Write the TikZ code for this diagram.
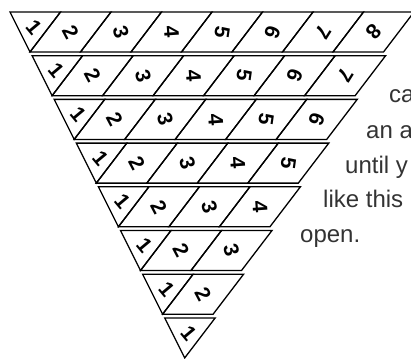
\documentclass[tikz,border=0pt]{standalone}
\usepackage{fontspec}
\setmainfont{Liberation Sans}
\usetikzlibrary{calc}

\begin{document}
\begin{tikzpicture}[
    x=1pt, y=-1pt,
    cell/.style={draw=black, line width=1.3pt, line join=miter},
    num/.style={font=\bfseries\fontsize{21}{21}\selectfont, inner sep=0pt},
    caption/.style={anchor=base west, inner sep=0pt, text=black!80, font=\fontsize{24}{24}\selectfont}
]
\useasboundingbox (0,0) rectangle (411,358);
\clip (0,0) rectangle (411,358);

% Facher: acht Reihen, oben die breiteste
\foreach \r in {0,...,7} {
  \pgfmathsetmacro{\xl}{10+22.1*\r}
  \pgfmathsetmacro{\yt}{12+43.7*\r}
  \pgfmathsetmacro{\yb}{\yt+40}
  \pgfmathtruncatemacro{\n}{8-\r}
  % erstes Feld: Dreieck
  \draw[cell] (\xl,\yt) -- ({\xl+50.5},\yt) -- ({\xl+20},\yb) -- cycle;
  \node[num, rotate=-50] (d\r-1) at ({\xl+24},{\yt+15}) {1};
  % weitere Felder: Parallelogramme
  \ifnum\n>1
  \foreach \j in {2,...,\n} {
    \pgfmathsetmacro{\ang}{-50-12*(\j-1)}
    \draw[cell] ({\xl+(\j-1)*50.5},\yt) -- ({\xl+\j*50.5},\yt)
      -- ({\xl+20+(\j-1)*50.5},\yb) -- ({\xl+20+(\j-2)*50.5},\yb) -- cycle;
    \node[num, rotate=\ang] (d\r-\j) at ({\xl+10+(\j-1)*50.5},{\yt+20}) {\j};
  }
  \fi
}

% Text rechts
\node[caption] (t1) at (389,103) {ca};
\node[caption] (t2) at (366,138) {an a};
\node[caption] (t3) at (345,173) {until y};
\node[caption] (t4) at (323,207) {like this};
\node[caption] (t5) at (300,242) {open.};

\end{tikzpicture}
\end{document}
